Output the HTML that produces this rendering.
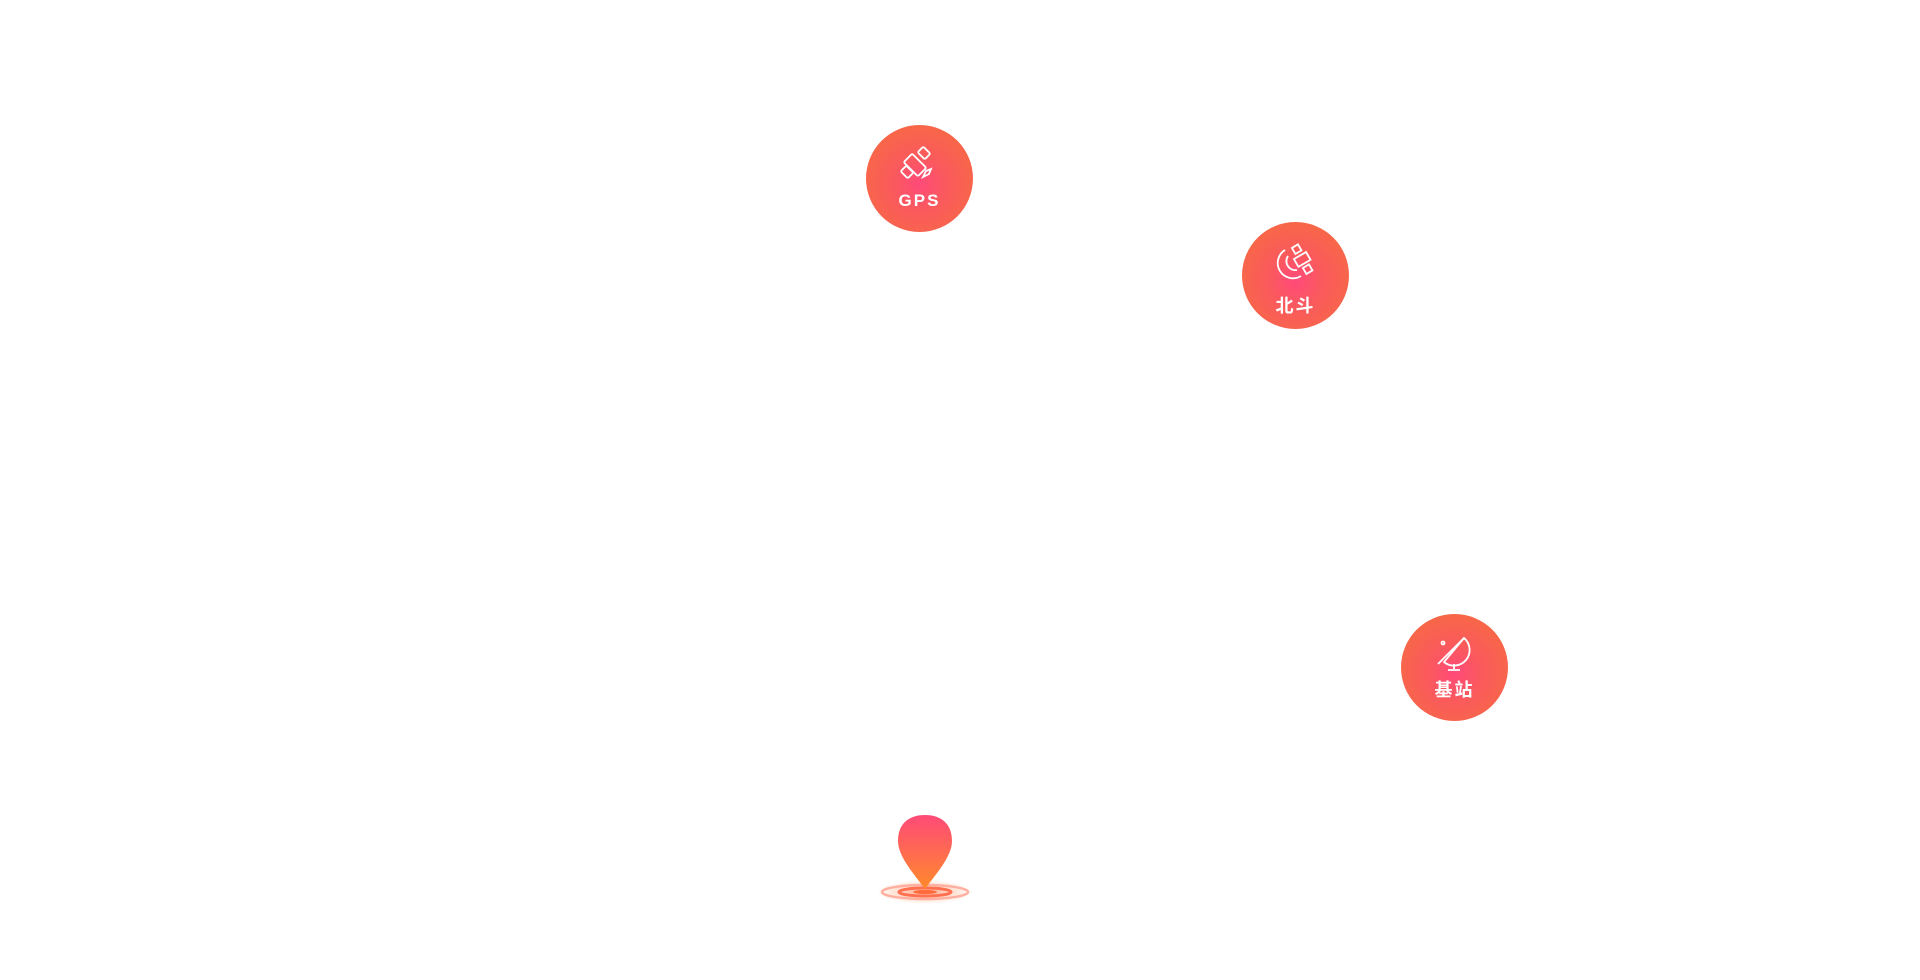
<!DOCTYPE html>
<html><head><meta charset="utf-8"><style>
html,body{margin:0;padding:0;background:#fff;width:1920px;height:980px;overflow:hidden;position:relative;font-family:"Liberation Sans","Noto Sans CJK SC",sans-serif}
.c{position:absolute;width:107px;height:107px;border-radius:50%;background:radial-gradient(circle at 50% 55%,#ff4a7a 0%,#fa5a5c 35%,#f6703a 100%);color:#fff;text-align:center}
.c svg{position:absolute;left:33px;top:20px}
.c .t{position:absolute;left:0;right:0;font-weight:bold;font-size:17px;letter-spacing:2px}
</style></head><body>
<div class="c" style="left:866px;top:125px">
<svg width="40" height="40" viewBox="0 0 40 40" fill="none" stroke="#fff" stroke-width="1.8">
<rect x="10" y="10" width="12" height="20" rx="1.5" transform="rotate(-45 16 20)"/>
<rect x="21" y="3" width="8" height="10" rx="1.5" transform="rotate(-45 25 8)"/>
<rect x="4" y="22" width="8" height="10" rx="1.5" transform="rotate(-45 8 27)"/>
<path d="M24 32 l3-6 5-2 -2 5z"/></svg>
<div class="t" style="top:66px">GPS</div></div>
<div class="c" style="left:1242px;top:222px">
<svg width="42" height="42" viewBox="0 0 42 42" fill="none" stroke="#fff" stroke-width="1.8">
<path d="M10 8 A15 15 0 0 0 26 34"/><path d="M13 14 A9 9 0 0 0 22 28"/>
<rect x="18" y="4" width="7" height="7" transform="rotate(-30 21 7)"/>
<rect x="20" y="13" width="14" height="9" transform="rotate(-30 27 17)"/>
<rect x="29" y="24" width="7" height="7" transform="rotate(-30 32 27)"/></svg>
<div class="t" style="top:70px;font-size:18px">北斗</div></div>
<div class="c" style="left:1401px;top:614px">
<svg width="40" height="42" viewBox="0 0 40 42" fill="none" stroke="#fff" stroke-width="1.8">
<path d="M30 4 A12 12 0 0 1 10 28 Z"/><path d="M4 30 L30 4"/><circle cx="9" cy="9" r="1.5"/>
<path d="M20 30 v5 M14 36 h12"/></svg>
<div class="t" style="top:62px;font-size:18px">基站</div></div>
<svg style="position:absolute;left:870px;top:805px" width="110" height="105" viewBox="0 0 110 105">
<defs><linearGradient id="p" x1="0" y1="0" x2="0" y2="1"><stop offset="0" stop-color="#ff4a78"/><stop offset="1" stop-color="#ff8a2a"/></linearGradient>
<radialGradient id="g"><stop offset="0" stop-color="#ff6a3a" stop-opacity=".6"/><stop offset="1" stop-color="#ff8a4a" stop-opacity="0"/></radialGradient></defs>
<ellipse cx="55" cy="87" rx="48" ry="12" fill="url(#g)"/>
<ellipse cx="55" cy="87" rx="43" ry="7" fill="none" stroke="#ffb0a0" stroke-width="2.5"/>
<ellipse cx="55" cy="87" rx="26" ry="4" fill="none" stroke="#ff7050" stroke-width="3"/>
<ellipse cx="55" cy="87" rx="12" ry="2" fill="#ff6a3a"/>
<path d="M55 10 C42 10 28 16 28 36 C28 52 45 70 55 84 C65 70 82 52 82 36 C82 16 68 10 55 10Z" fill="url(#p)"/>
</svg>
</body></html>
